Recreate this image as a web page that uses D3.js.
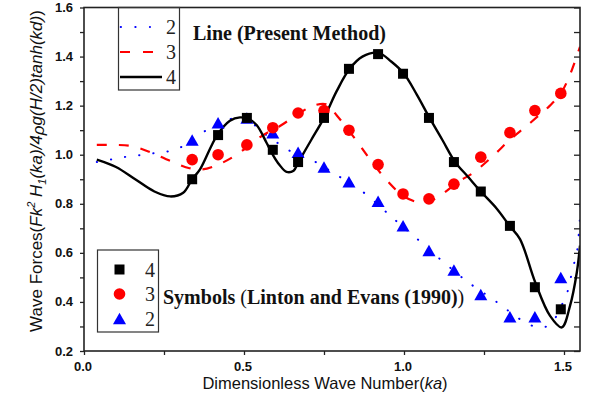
<!DOCTYPE html>
<html><head><meta charset="utf-8">
<script src="https://cdn.jsdelivr.net/npm/d3@7"></script>
<style>body{margin:0;background:#fff}svg{display:block}</style>
</head><body>
<svg id="c" width="592" height="399"></svg>
<script>
// ---- data ----
const symKa = [0.338,0.419,0.509,0.590,0.669,0.750,0.828,0.919,0.997,1.078,1.156,1.240,1.331,1.409,1.490];
const sym4 = [0.90,1.08,1.15,1.02,0.97,1.15,1.35,1.41,1.33,1.15,0.97,0.85,0.71,0.46,0.37];
const sym3 = [0.98,1.00,1.04,1.11,1.17,1.18,1.10,0.96,0.84,0.82,0.88,0.99,1.09,1.18,1.25];
const sym2 = [1.06,1.13,1.15,1.09,1.01,0.95,0.89,0.81,0.71,0.61,0.53,0.43,0.34,0.34,0.50];

const line4X = [0.04,0.10,0.16,0.22,0.27,0.31,0.338,0.3625,0.415,0.456,0.4875,0.515,0.54,0.57,0.59,0.61,0.633,0.655,0.67,0.71,0.75,0.79,0.83,0.87,0.92,0.96,1.00,1.04,1.08,1.12,1.16,1.20,1.24,1.29,1.33,1.3625,1.41,1.456,1.493,1.519,1.54,1.55];
const line4Y = [0.98,0.95,0.90,0.85,0.83,0.845,0.90,0.94,1.077,1.138,1.152,1.145,1.12,1.05,1.00,0.96,0.93,0.935,0.97,1.06,1.15,1.26,1.35,1.40,1.415,1.38,1.33,1.245,1.15,1.06,0.97,0.91,0.85,0.78,0.71,0.656,0.48,0.344,0.296,0.385,0.52,0.63];

const line3X = [0.04,0.10,0.15,0.206,0.269,0.33,0.37,0.42,0.477,0.555,0.6125,0.68,0.717,0.758,0.79,0.85,0.90,0.95,1.00,1.05,1.08,1.12,1.17,1.217,1.278,1.33,1.383,1.43,1.456,1.49,1.519,1.55];
const line3Y = [1.04,1.04,1.035,1.011,0.975,0.945,0.94,0.96,1.00,1.076,1.117,1.175,1.20,1.205,1.16,1.06,0.97,0.89,0.83,0.805,0.81,0.84,0.89,0.927,0.995,1.06,1.117,1.17,1.20,1.25,1.327,1.44];

const line2X = [0.04,0.086,0.128,0.173,0.217,0.26,0.30,0.34,0.375,0.42,0.47,0.51,0.534,0.57,0.604,0.644,0.69,0.727,0.78,0.83,0.88,0.94,0.972,1.04,1.107,1.175,1.209,1.284,1.319,1.354,1.394,1.437,1.47,1.49,1.508,1.529,1.54,1.548,1.555];
const line2Y = [0.97,0.981,0.991,0.998,1.006,1.013,1.029,1.06,1.094,1.125,1.15,1.155,1.12,1.08,1.049,1.015,0.99,0.968,0.925,0.885,0.84,0.771,0.734,0.658,0.581,0.506,0.472,0.405,0.371,0.337,0.306,0.296,0.33,0.38,0.43,0.545,0.60,0.71,0.87];

const xTickVals = [0, 0.5, 1.0, 1.5];
const xTickLabels = ["0.0","0.5","1.0","1.5"];
const yTickVals = [0.2,0.4,0.6,0.8,1.0,1.2,1.4,1.6];
const yTickLabels = ["0.2","0.4","0.6","0.8","1.0","1.2","1.4","1.6"];
const legendLine = ["2","3","4"];
const legendSym = ["4","3","2"];

// ---- layout ----
const L = 84, R = 580, T = 7.5, B = 351;
const svg = d3.select("#c");
const x = d3.scaleLinear().domain([0, 1.55]).range([L, R]);
const y = d3.scaleLinear().domain([0.2, 1.6]).range([B, T]);

svg.append("defs").append("clipPath").attr("id","clip")
  .append("rect").attr("x",L).attr("y",T).attr("width",R-L).attr("height",B-T);

// axes
const xAxis = d3.axisBottom(x).tickValues(d3.range(0, 1.51, 0.25)).tickSize(4).tickFormat("");
const gx = svg.append("g").attr("transform",`translate(0,${B})`).call(xAxis);
gx.select(".domain").remove();
gx.selectAll("text").remove();
gx.selectAll("line").attr("stroke","#222").attr("stroke-width",1.3);
xTickVals.forEach((v,i)=>{
  svg.append("text").attr("x",x(v)-1).attr("y",371).attr("text-anchor","middle")
    .attr("font-family","Liberation Sans, Arial").attr("font-weight","bold").attr("font-size",13)
    .attr("fill","#111").text(xTickLabels[i]);
});
const yAxis = d3.axisLeft(y).tickValues(d3.range(0.2, 1.601, 0.1)).tickSize(4).tickFormat("");
const gy = svg.append("g").attr("transform",`translate(${L},0)`).call(yAxis);
gy.select(".domain").remove();
gy.selectAll("text").remove();
gy.selectAll("line").attr("stroke","#222").attr("stroke-width",1.3);
const yAxisR = d3.axisLeft(y).tickValues(d3.range(0.2, 1.601, 0.1)).tickSize(6).tickFormat("");
const gyr = svg.append("g").attr("transform",`translate(${R},0)`).call(yAxisR);
gyr.select(".domain").remove();
gyr.selectAll("text").remove();
gyr.selectAll("line").attr("stroke","#222").attr("stroke-width",1.3).attr("x2",-6);
yTickVals.forEach((v,i)=>{
  svg.append("text").attr("x",73).attr("y",y(v)+4.5).attr("text-anchor","end")
    .attr("font-family","Liberation Sans, Arial").attr("font-weight","bold").attr("font-size",13)
    .attr("fill","#111").text(yTickLabels[i]);
});

// lines
const mk = (xs, ys) => xs.map((d,i)=>[d, ys[i]]);
const lineGen = d3.line().x(d=>x(d[0])).y(d=>y(d[1])).curve(d3.curveCatmullRom.alpha(0.5));
const gl = svg.append("g").attr("clip-path","url(#clip)");
gl.append("path").attr("d", lineGen(mk(line2X,line2Y))).attr("fill","none")
  .attr("stroke","#0000ff").attr("stroke-width",2).attr("stroke-linecap","round").attr("stroke-dasharray","0.3,14");
gl.append("path").attr("d", lineGen(mk(line3X,line3Y))).attr("fill","none")
  .attr("stroke","#ff0000").attr("stroke-width",2.2).attr("stroke-dasharray","10,12");
gl.append("path").attr("d", lineGen(mk(line4X,line4Y))).attr("fill","none")
  .attr("stroke","#000").attr("stroke-width",2.4);

// symbols
const tri = (cx, cy, w, h) => `M${cx-w/2},${cy+h/2}L${cx+w/2},${cy+h/2}L${cx},${cy-h/2}Z`;
const gs = svg.append("g");
gs.selectAll(".t").data(symKa).join("path").attr("d",(d,i)=>tri(x(d), y(sym2[i]), 13, 11.5)).attr("fill","#0000ff");
gs.selectAll(".c").data(symKa).join("circle").attr("cx",d=>x(d)).attr("cy",(d,i)=>y(sym3[i])).attr("r",5.8).attr("fill","#ff0000");
gs.selectAll(".s").data(symKa).join("rect").attr("x",d=>x(d)-5).attr("y",(d,i)=>y(sym4[i])-5).attr("width",10).attr("height",10).attr("fill","#000");

// frame
svg.append("rect").attr("x",L).attr("y",T).attr("width",R-L).attr("height",B-T)
  .attr("fill","none").attr("stroke","#222").attr("stroke-width",1.6);

// top legend (lines)
svg.append("rect").attr("x",118.5).attr("y",T).attr("width",61).attr("height",90-T)
  .attr("fill","none").attr("stroke","#333").attr("stroke-width",1.2);
const legY = [27, 52, 77];
svg.append("path").attr("d",`M120.7,${legY[0]}L150,${legY[0]}`).attr("stroke","#0000ff").attr("stroke-width",2)
  .attr("stroke-linecap","round").attr("stroke-dasharray","0.3,14.3");
svg.append("path").attr("d",`M120,${legY[1]}L155,${legY[1]}`).attr("stroke","#ff0000").attr("stroke-width",2.2)
  .attr("stroke-dasharray","10,13");
svg.append("path").attr("d",`M120,${legY[2]}L162,${legY[2]}`).attr("stroke","#000").attr("stroke-width",2.4);
legendLine.forEach((t,i)=>{
  svg.append("text").attr("x",166).attr("y",legY[i]+7).attr("font-family","Liberation Serif, Times New Roman")
    .attr("font-size",20).attr("fill","#222").text(t);
});
svg.append("text").attr("x",193).attr("y",40).attr("font-family","Liberation Serif, Times New Roman")
  .attr("font-weight","bold").attr("font-size",20).attr("fill","#111").text("Line (Present Method)");

// bottom legend (symbols)
svg.append("rect").attr("x",97.5).attr("y",250).attr("width",61).attr("height",82)
  .attr("fill","none").attr("stroke","#333").attr("stroke-width",1.2);
const sLegY = [269.5, 294, 318.5];
svg.append("rect").attr("x",114.5).attr("y",sLegY[0]-5).attr("width",10).attr("height",10).attr("fill","#000");
svg.append("circle").attr("cx",119.5).attr("cy",sLegY[1]).attr("r",5.8).attr("fill","#ff0000");
svg.append("path").attr("d",tri(119.5,sLegY[2],13,11.5)).attr("fill","#0000ff");
legendSym.forEach((t,i)=>{
  svg.append("text").attr("x",145).attr("y",sLegY[i]+7).attr("font-family","Liberation Serif, Times New Roman")
    .attr("font-size",20).attr("fill","#222").text(t);
});
const st = svg.append("text").attr("x",163).attr("y",304).attr("font-family","Liberation Serif, Times New Roman")
  .attr("font-size",20).attr("fill","#111");
st.append("tspan").attr("font-weight","bold").text("Symbols ");
st.append("tspan").text("(");
st.append("tspan").attr("font-weight","bold").text("Linton and Evans (1990)");
st.append("tspan").text(")");

// axis titles
const xt = svg.append("text").attr("x",325).attr("y",389).attr("text-anchor","middle")
  .attr("font-family","Liberation Sans, Arial").attr("font-size",16.5).attr("fill","#111");
xt.append("tspan").text("Dimensionless Wave Number(");
xt.append("tspan").attr("font-style","italic").text("ka");
xt.append("tspan").text(")");

const yt = svg.append("text").attr("transform","translate(42,171) rotate(-90)").attr("text-anchor","middle")
  .attr("font-family","Liberation Sans, Arial").attr("font-size",17).attr("fill","#111");
yt.append("tspan").text("Wave Forces(");
yt.append("tspan").attr("font-style","italic").text("Fk");
yt.append("tspan").attr("font-style","italic").attr("font-size",11).attr("dy",-7).text("2");
yt.append("tspan").attr("font-style","italic").attr("dy",7).text(" H");
yt.append("tspan").attr("font-style","italic").attr("font-size",11).attr("dy",4).text("1");
yt.append("tspan").attr("font-style","italic").attr("dy",-4).text("(ka)/4");
yt.append("tspan").attr("font-style","italic").attr("dy",2).text("ρ");
yt.append("tspan").attr("font-style","italic").attr("dy",-2).text("g(H/2)tanh(kd)");
yt.append("tspan").text(")");
</script>
</body></html>
